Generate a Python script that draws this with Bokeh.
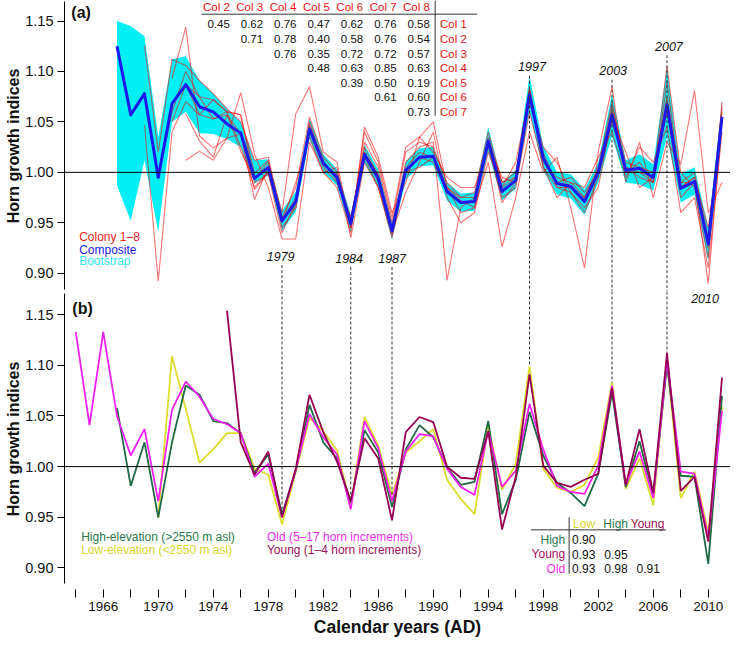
import numpy as np
from bokeh.plotting import figure
from bokeh.models import Range1d, FixedTicker, NumeralTickFormatter, Span
from bokeh.layouts import column
from bokeh.embed import file_html
from bokeh.resources import INLINE
from bokeh.core.properties import value

# ---------------- data: panel (a) ----------------
years_a = list(range(1967, 2012))
composite = [1.125, 1.057, 1.078, 0.995, 1.068, 1.087, 1.065, 1.060, 1.048, 1.039,
             0.994, 1.005, 0.952, 0.971, 1.043, 1.009, 0.995, 0.949, 1.018, 0.994,
             0.942, 1.002, 1.015, 1.016, 0.981, 0.970, 0.971, 1.031, 0.981, 0.992,
             1.077, 1.014, 0.989, 0.986, 0.971, 1.000, 1.057, 1.002, 1.004, 0.995,
             1.067, 0.984, 0.991, 0.929, 1.055]
boot_upper = [1.150, 1.145, 1.135, 1.035, 1.112, 1.115, 1.091, 1.078, 1.063, 1.050,
              1.012, 1.013, 0.962, 0.981, 1.053, 1.018, 1.003, 0.958, 1.027, 1.003,
              0.951, 1.011, 1.024, 1.025, 0.990, 0.979, 0.980, 1.045, 0.990, 1.002,
              1.096, 1.026, 1.000, 0.998, 0.983, 1.010, 1.078, 1.012, 1.018, 1.008,
              1.105, 0.998, 1.005, 0.945, 1.070]
boot_lower = [0.987, 0.952, 1.012, 0.941, 1.050, 1.060, 1.039, 1.038, 1.033, 1.025,
              0.989, 0.997, 0.942, 0.961, 1.033, 1.000, 0.987, 0.940, 1.009, 0.985,
              0.933, 0.993, 1.006, 1.007, 0.972, 0.961, 0.962, 1.020, 0.972, 0.984,
              1.060, 1.002, 0.978, 0.974, 0.958, 0.990, 1.036, 0.990, 0.988, 0.982,
              1.035, 0.970, 0.978, 0.912, 1.040]
colony_1 = [1.125, 1.057, 1.078, 0.995, 1.060, 1.100, 1.075, 1.072, 1.060, 1.057,
            0.999, 1.012, 0.945, 0.965, 1.050, 1.010, 0.995, 0.945, 1.025, 0.996,
            0.938, 1.005, 1.020, 1.015, 0.985, 0.972, 0.965, 1.035, 0.985, 0.995,
            1.085, 1.010, 0.995, 0.990, 0.975, 1.005, 1.070, 1.000, 1.010, 0.990,
            1.090, 0.985, 0.995, 0.925, 1.060]
colony_2 = [None, None, 1.047, 0.892, 1.040, 1.070, 1.057, 1.053, 1.057, 1.038,
            0.983, 1.000, 0.952, 0.975, 1.040, 1.005, 0.990, 0.955, 1.020, 0.990,
            0.945, 1.010, 1.025, 1.030, 0.893, 0.965, 0.975, 1.030, 0.970, 0.990,
            1.070, 1.020, 0.985, 0.980, 0.960, 0.995, 1.050, 1.005, 1.000, 0.995,
            1.060, 0.975, 0.990, 0.890, 1.050]
colony_3 = [None, None, 1.126, 1.020, 1.112, 1.106, 1.091, 1.078, 1.063, 1.050,
            1.012, 1.015, 0.955, 0.985, 1.055, 1.015, 1.000, 0.950, 1.030, 1.005,
            0.950, 1.020, 1.030, 1.025, 0.990, 0.975, 0.980, 1.040, 0.990, 1.000,
            1.080, 1.015, 0.990, 0.995, 0.980, 1.000, 1.065, 1.010, 1.005, 1.000,
            1.075, 0.990, 1.000, 0.935, 1.065]
colony_4 = [None, None, None, None, 1.093, 1.144, 1.036, 1.024, 1.034, 1.079,
            1.018, 0.985, 0.934, 0.934, 1.030, 1.000, 0.985, 0.940, 1.045, 1.015,
            0.960, 0.990, 1.035, 1.050, 0.985, 0.960, 0.965, 1.010, 0.926, 0.975,
            1.040, 1.000, 1.015, 0.965, 0.905, 1.020, 1.085, 0.990, 1.030, 0.975,
            1.030, 1.008, 1.081, 0.960, 0.990]
colony_5 = [None, None, None, None, None, 1.058, 1.031, 1.015, 1.057, 1.021,
            0.993, 1.010, 0.960, 1.058, 1.085, 1.020, 1.010, 0.945, 1.040, 1.010,
            0.955, 1.025, 1.035, 1.020, 0.995, 0.985, 0.985, 1.025, 0.975, 0.985,
            1.060, 1.005, 0.975, 0.990, 0.985, 1.015, 1.040, 0.995, 1.025, 1.010,
            1.045, 0.960, 0.975, 0.905, 1.040]
colony_6 = [None, None, None, None, None, 1.012, 1.021, 1.012, 1.034, 1.038,
            0.973, 1.005, 0.950, 0.990, 1.035, 1.000, 1.005, 0.935, 1.010, 0.985,
            0.940, 0.980, 1.010, 1.040, 0.975, 0.950, 0.960, 1.020, 0.985, 1.010,
            1.075, 1.025, 1.010, 0.980, 0.965, 0.985, 1.055, 1.020, 0.985, 0.995,
            1.105, 1.000, 0.985, 0.915, 1.070]
colony_7 = [None, None, None, None, 1.050, 1.087, 1.075, 1.053, 1.060, 1.057,
            0.990, 0.998, 0.940, 0.970, 1.045, 1.012, 0.992, 0.948, 1.015, 0.985,
            0.935, 1.000, 1.015, 1.010, 0.980, 0.970, 0.970, 1.028, 0.995, 0.990,
            1.080, 1.005, 0.985, 0.985, 0.970, 1.000, 1.060, 1.000, 1.000, 0.990,
            1.070, 0.990, 0.990, 0.930, 1.055]
colony_8 = [None, None, None, None, None, 1.087, 1.057, 1.072, 1.060, 1.025,
            0.985, 1.000, 0.955, 0.965, 1.048, 1.008, 0.998, 0.955, 1.020, 0.998,
            0.945, 1.000, 1.005, 1.015, 0.985, 0.975, 0.975, 1.032, 0.990, 0.995,
            1.082, 1.015, 0.990, 0.985, 0.975, 1.000, 1.060, 1.005, 0.995, 0.990,
            1.065, 0.985, 0.995, 0.945, 1.050]
colonies = [colony_1, colony_2, colony_3, colony_4, colony_5, colony_6, colony_7, colony_8]

col_headers = ["Col 2", "Col 3", "Col 4", "Col 5", "Col 6", "Col 7", "Col 8"]
row_headers = ["Col 1", "Col 2", "Col 3", "Col 4", "Col 5", "Col 6", "Col 7"]
corr_a = [["0.45", "0.62", "0.76", "0.47", "0.62", "0.76", "0.58"],
          ["0.71", "0.78", "0.40", "0.58", "0.76", "0.54"],
          ["0.76", "0.35", "0.72", "0.72", "0.57"],
          ["0.48", "0.63", "0.85", "0.63"],
          ["0.39", "0.50", "0.19"],
          ["0.61", "0.60"],
          ["0.73"]]

# ---------------- data: panel (b) ----------------
years_b = list(range(1964, 2012))
old_b = [1.133, 1.041, 1.133, 1.050, 1.011, 1.037, 0.966, 1.056, 1.084, 1.069,
         1.047, 1.042, 1.033, 0.990, 1.003, 0.950, 0.997, 1.052, 1.029, 1.012,
         0.958, 1.045, 1.018, 0.966, 1.015, 1.032, 1.030, 0.998, 0.980, 0.972,
         1.035, 0.980, 0.996, 1.062, 1.017, 0.981, 0.975, 0.973, 1.001, 1.080,
         0.982, 1.015, 0.969, 1.105, 0.995, 0.993, 0.930, 1.055]
high_b = [None, None, None, 1.058, 0.981, 1.024, 0.950, 1.024, 1.080, 1.071,
          1.045, 1.043, 1.033, 0.994, 1.012, 0.953, 0.996, 1.061, 1.024, 1.008,
          0.964, 1.036, 1.014, 0.960, 1.017, 1.041, 1.029, 0.999, 0.982, 0.985,
          1.045, 0.953, 0.987, 1.054, 1.011, 0.984, 0.974, 0.961, 0.993, 1.073,
          0.980, 1.025, 0.972, 1.100, 0.991, 0.990, 0.904, 1.070]
low_b = [None, None, None, None, None, None, 0.949, 1.109, 1.057, 1.004,
         1.017, 1.033, 1.033, 0.998, 0.992, 0.943, 0.995, 1.048, 1.035, 1.016,
         0.962, 1.049, 1.021, 0.972, 1.014, 1.025, 1.037, 0.987, 0.968, 0.953,
         1.040, 0.977, 1.003, 1.099, 0.998, 0.979, 0.975, 0.982, 1.009, 1.083,
         0.978, 1.008, 0.962, 1.104, 0.969, 0.995, 0.935, 1.060]
young_b = [None, None, None, None, None, None, None, None, None, None,
           None, 1.154, 1.024, 0.992, 1.015, 0.950, 0.998, 1.071, 1.034, 1.005,
           0.966, 1.028, 1.008, 0.947, 1.034, 1.049, 1.044, 1.000, 0.989, 0.988,
           1.035, 0.938, 0.990, 1.091, 1.001, 0.984, 0.980, 0.987, 0.993, 1.078,
           0.982, 1.037, 0.974, 1.112, 0.976, 0.990, 0.926, 1.088]

corr_b_cols = ["Low", "High", "Young"]
corr_b_rows = ["High", "Young", "Old"]
corr_b = [["0.90"], ["0.93", "0.95"], ["0.93", "0.98", "0.91"]]

event_years = [1979, 1984, 1987, 1997, 2003, 2007]
y_ticks = [0.90, 0.95, 1.00, 1.05, 1.10, 1.15]
x_ticks = list(range(1964, 2011, 2))

# ---------------- layout helpers ----------------
FONT = value("Liberation Sans")
SX = 730 / 746
SY = 639 / 655


def yr(rx):
    return 1964 + (rx - 76.5) / 14.06


def va(ry):
    return 1.15 - 0.25 * (ry - 21.0) / 258.3


def vb(ry):
    return 1.15 - 0.25 * (ry - 321.7) / 259.3


W = 730
LEFT = round(65 * SX)
HA = round(298 * SY)
HBF = round(302 * SY)
BOT = 639 - HA - HBF

RED = "#ff0000"
BLUE = "#1a1aee"
CYAN = "#00f0f6"
GREEN = "#1f6b45"
YELLOW = "#dcdc2e"
MAGENTA = "#f020f0"
MAROON = "#960052"

xr = Range1d(yr(65), yr(746))


def base(h, yrange, bottom, bounds):
    p = figure(width=W, height=h, x_range=xr, y_range=yrange,
               output_backend="svg", toolbar_location=None,
               min_border_left=LEFT, min_border_right=0, min_border_top=0,
               min_border_bottom=bottom)
    p.outline_line_color = None
    p.xgrid.visible = False
    p.ygrid.visible = False
    p.background_fill_color = "white"
    p.border_fill_color = "white"
    ax = p.yaxis[0]
    ax.ticker = FixedTicker(ticks=y_ticks)
    ax.formatter = NumeralTickFormatter(format="0.00")
    ax.bounds = bounds
    ax.major_tick_out = 7
    ax.major_tick_in = 0
    ax.minor_tick_out = 0
    ax.minor_tick_in = 0
    ax.axis_line_color = "black"
    ax.major_tick_line_color = "black"
    ax.major_label_text_font = "Liberation Sans"
    ax.major_label_text_font_size = "14.5px"
    ax.major_label_text_color = "#111111"
    ax.major_label_standoff = 4
    ax.axis_label = "Horn growth indices"
    ax.axis_label_text_font = "Liberation Sans"
    ax.axis_label_text_font_style = "bold"
    ax.axis_label_text_font_size = "16px"
    ax.axis_label_text_color = "#111111"
    ax.axis_label_standoff = 0
    p.add_layout(Span(location=1.0, dimension="width", line_color="black", line_width=1))
    return p


def texts(p, xs, ys, labels, color="#111111", size="11.5px", align="left", style="normal"):
    p.text(x=xs, y=ys, text=labels, text_font=FONT, text_font_size=size,
           text_color=color, text_align=align, text_baseline="middle",
           text_font_style=style)


def arr(v):
    return np.array([np.nan if a is None else a for a in v], dtype=float)


# ---------------- panel (a) ----------------
pa = base(HA, Range1d(va(298), va(0)), 0, (va(296), va(1)))
pa.xaxis.visible = False

pa.varea(x=years_a, y1=boot_lower, y2=boot_upper, fill_color=CYAN, fill_alpha=1.0)
for c in colonies:
    pa.line(years_a, arr(c), line_color=RED, line_alpha=0.55, line_width=1.1)
pa.line(years_a, composite, line_color=BLUE, line_width=3, line_join="round")

# event dashed lines (a)
ev_label_y_a = [262, 264, 264, 68, 72, 47]
pa.segment(x0=event_years, y0=[va(r + 9) for r in ev_label_y_a],
           x1=event_years, y1=[va(298)] * len(event_years),
           line_color="#333333", line_width=1, line_dash="3 2")
texts(pa, [yr(286), yr(356), yr(400), yr(543), yr(626), yr(683)],
      [va(r) for r in ev_label_y_a],
      [str(e) for e in event_years], size="12.5px", align="center", style="italic")

# correlation table (a)
col_right = [234 + 34.1 * i for i in range(7)]
texts(pa, [yr(x) for x in col_right], [va(6.7)] * 7, col_headers, color="#ee1111", align="right")
for r, row in enumerate(corr_a):
    xs = [yr(col_right[r + k]) for k in range(len(row))]
    texts(pa, xs, [va(24.3 + 15 * r)] * len(row), row, align="right")
texts(pa, [yr(449)] * 7, [va(24.3 + 15 * r) for r in range(7)], row_headers, color="#ee1111")
pa.segment(x0=[yr(205), yr(444)], y0=[va(14), va(0)], x1=[yr(487), yr(444)], y1=[va(14), va(118)],
           line_color="#333333", line_width=1)

# legend (a)
texts(pa, [yr(80)] * 3, [va(242), va(255), va(267)], ["Colony 1\u20138", "Composite", "Bootstrap"],
      color=["#ee2222", "#2222dd", "#33e6ee"], size="12px")
texts(pa, [yr(72)], [va(12)], ["(a)"], size="16px", style="bold")

# ---------------- panel (b) ----------------
pb = base(HBF + BOT, Range1d(vb(600), vb(298)), BOT, (vb(597), vb(300)))
xa = pb.xaxis[0]
xa.ticker = FixedTicker(ticks=x_ticks)
xa.major_label_overrides = {t: ("" if (t - 1966) % 4 else str(t)) for t in x_ticks}
xa.axis_line_color = None
xa.major_tick_in = -3
xa.major_tick_out = 11
xa.minor_tick_in = 0
xa.minor_tick_out = 0
xa.major_tick_line_color = "black"
xa.major_label_text_font = "Liberation Sans"
xa.major_label_text_font_size = "13.5px"
xa.major_label_text_color = "#111111"
xa.major_label_standoff = 4
xa.axis_label = "Calendar years (AD)"
xa.axis_label_text_font = "Liberation Sans"
xa.axis_label_text_font_style = "bold"
xa.axis_label_text_font_size = "17.5px"
xa.axis_label_text_color = "#111111"
xa.axis_label_standoff = 3

series_b = [(low_b, YELLOW), (high_b, GREEN), (old_b, MAGENTA), (young_b, MAROON)]
for s, col in series_b:
    pb.line(years_b, arr(s), line_color=col, line_width=1.8)

# dashed lines (b): from top down to the highest series value in that year
stack = np.vstack([arr(s) for s, _ in series_b])
ends = [float(np.nanmax(stack[:, years_b.index(e)])) for e in event_years]
pb.segment(x0=event_years, y0=[vb(298)] * len(event_years), x1=event_years, y1=ends,
           line_color="#333333", line_width=1, line_dash="3 2")
texts(pb, [yr(720)], [vb(305)], ["2010"], size="12.5px", align="center", style="italic")
texts(pb, [yr(73)], [vb(315)], ["(b)"], size="16px", style="bold")

# legend (b)
texts(pb, [yr(82), yr(82)], [vb(549), vb(563)],
      ["High-elevation (>2550 m asl)", "Low-elevation (<2550 m asl)"],
      color=["#2a7a4e", "#d6d62a"], size="12px")
texts(pb, [yr(272), yr(272)], [vb(549), vb(563)],
      ["Old (5\u201317 horn increments)", "Young (1\u20134 horn increments)"],
      color=["#f030f0", "#a0105a"], size="12px")

# correlation table (b)
texts(pb, [yr(585), yr(616), yr(644)], [vb(536)] * 3, corr_b_cols,
      color=["#d6d62a", "#2a7a4e", "#a0105a"], size="12px")
texts(pb, [yr(577)] * 3, [vb(552), vb(567), vb(582)], corr_b_rows,
      color=["#2a7a4e", "#a0105a", "#f030f0"], size="12px", align="right")
for r, row in enumerate(corr_b):
    texts(pb, [yr(584 + 33 * k) for k in range(len(row))], [vb(552 + 15 * r)] * len(row), row, size="12px")
pb.segment(x0=[yr(542), yr(581)], y0=[vb(542), vb(529)], x1=[yr(680), yr(581)], y1=[vb(542), vb(587)],
           line_color="#333333", line_width=1)

layout = column(pa, pb, spacing=0)
open("out.html", "w").write(file_html(layout, INLINE))
